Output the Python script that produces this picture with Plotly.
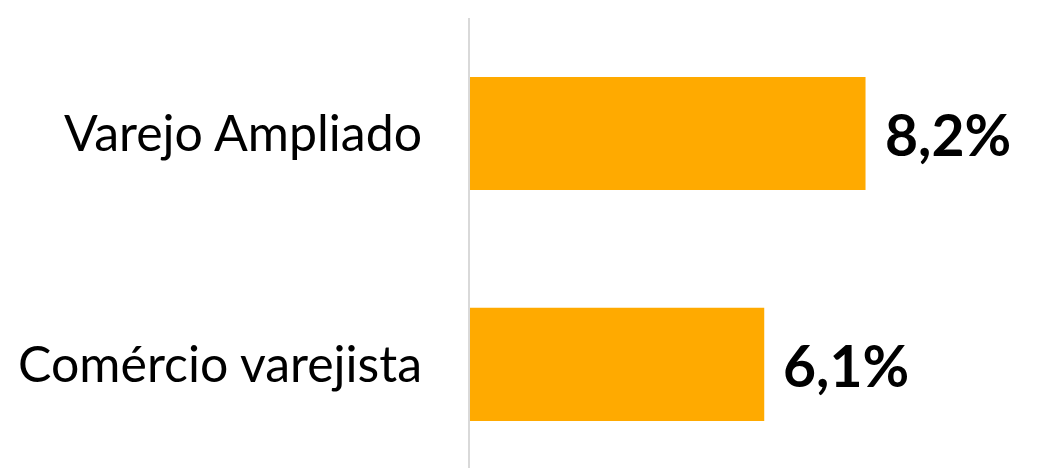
import plotly.graph_objects as go

categories = ["Comércio varejista", "Varejo Ampliado"]
values = [6.1, 8.2]
value_labels = ["6,1%", "8,2%"]

BAR_COLOR = "#FFAA00"
FONT = "Lato"

fig = go.Figure()
fig.add_trace(go.Bar(
    y=categories,
    x=values,
    orientation="h",
    marker=dict(color=BAR_COLOR, line=dict(width=0)),
    width=0.49,
    hoverinfo="skip",
))

for cat, v, lab in zip(categories, values, value_labels):
    fig.add_annotation(
        x=v, y=cat, xref="x", yref="y",
        text="<b>" + lab + "</b>",
        showarrow=False, xanchor="left", yanchor="middle",
        xshift=17, yshift=-1,
        font=dict(family=FONT, size=57, color="#000000"),
    )

fig.update_layout(
    width=1046, height=468,
    margin=dict(l=462, r=10, t=10, b=0, pad=0),
    paper_bgcolor="white", plot_bgcolor="white",
    showlegend=False,
    font=dict(family=FONT, color="#000000"),
    xaxis=dict(range=[0, 11.9], visible=False, showgrid=False, zeroline=False, fixedrange=True),
    yaxis=dict(
        type="category",
        categoryorder="array", categoryarray=categories,
        range=[-0.483, 1.5],
        showline=True, linecolor="#D9D9D9", linewidth=2,
        showgrid=False, zeroline=False,
        ticks="", ticklabelstandoff=36,
        tickfont=dict(family=FONT, size=50, color="#000000"),
        fixedrange=True,
    ),
)

fig.write_html("out.html")
